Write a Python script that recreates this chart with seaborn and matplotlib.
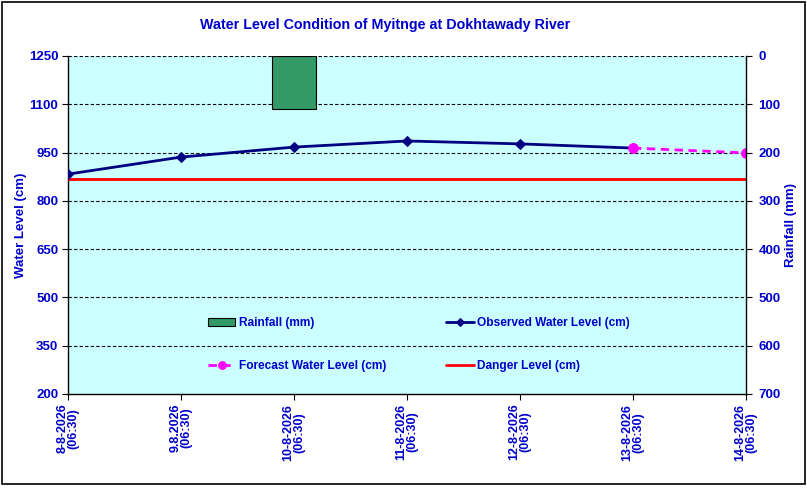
import matplotlib
matplotlib.use("Agg")
import matplotlib.pyplot as plt
import seaborn as sns
import pandas as pd
import numpy as np
from matplotlib.patches import Rectangle

# ---- data ----
dates = ["8-8-2026\n(06:30)", "9.8.2026\n(06:30)", "10-8-2026\n(06:30)", "11-8-2026\n(06:30)",
         "12-8-2026\n(06:30)", "13-8-2026\n(06:30)", "14-8-2026\n(06:30)"]
observed = [883, 936, 967, 986, 977, 964, np.nan]
forecast = [np.nan, np.nan, np.nan, np.nan, np.nan, 964, 949]
danger = [868, 868, 868, 868, 868, 868, 868]
rainfall = [0, 0, 110, 0, 0, 0, 0]
left_ticks = [200, 350, 500, 650, 800, 950, 1100, 1250]
right_ticks = [0, 100, 200, 300, 400, 500, 600, 700]

TXT = "#0000CC"
BG = "#CCFFFF"

sns.set_theme(style="white")
plt.rcParams["font.family"] = ["Liberation Sans", "DejaVu Sans"]
plt.rcParams["font.weight"] = "bold"

fig = plt.figure(figsize=(8.07, 4.88), dpi=100)
fig.patches.append(Rectangle((0.003, 0.008), 0.994, 0.988, transform=fig.transFigure,
                             fill=False, edgecolor="black", linewidth=1.2))
ax = fig.add_axes([68 / 807, 1 - 394 / 488, 678 / 807, 338 / 488])
ax.set_facecolor(BG)

idx = list(range(len(dates)))
df = pd.DataFrame({"x": idx, "observed": observed, "forecast": forecast,
                   "danger": danger, "rain": rainfall})

# gridlines
for t in left_ticks[1:]:
    ax.axhline(t, color="black", linewidth=0.8, linestyle=(0, (3, 2)), zorder=1)

sns.lineplot(data=df, x="x", y="danger", ax=ax, color="#FF0000", linewidth=2,
             label="Danger Level (cm)", zorder=3, legend=False)
sns.lineplot(data=df, x="x", y="observed", ax=ax, color="#000080", linewidth=2,
             marker="D", markersize=5.5, markeredgecolor="#000080",
             label="Observed Water Level (cm)", zorder=4, legend=False)
sns.lineplot(data=df, x="x", y="forecast", ax=ax, color="#FF00FF", linewidth=2,
             linestyle=(0, (3, 2)), marker="o", markersize=7, markeredgecolor="#FF00FF",
             label="Forecast Water Level (cm)", zorder=5, legend=False)

ax.set_xlim(0, 6)
ax.set_ylim(200, 1250)
ax.set_yticks(left_ticks)
ax.set_yticklabels([str(t) for t in left_ticks], color=TXT, fontsize=9.5, fontweight="bold")
ax.set_xticks(idx)
ax.set_xticklabels(dates, rotation=90, ha="center", va="top", color=TXT,
                   fontsize=9, fontweight="bold", linespacing=0.95)
ax.set_xlabel("")
ax.set_ylabel("Water Level (cm)", color=TXT, fontsize=9.5, fontweight="bold", labelpad=1)
ax.tick_params(axis="both", direction="out", length=4, width=0.8, color="black",
               left=True, bottom=True, pad=3)
for s in ["left", "bottom"]:
    ax.spines[s].set_color("black")
    ax.spines[s].set_linewidth(1.0)
for s in ["top", "right"]:
    ax.spines[s].set_visible(False)

# rainfall on inverted secondary axis
ax2 = ax.twinx()
rain_df = df[df["rain"] > 0]
sns.barplot(data=rain_df, x="x", y="rain", ax=ax2, native_scale=True, width=0.39,
            color="#339966", saturation=1, edgecolor="black", linewidth=0.8,
            label="Rainfall (mm)", legend=False)
ax2.set_xlim(0, 6)
ax2.set_ylim(700, 0)
ax2.set_yticks(right_ticks)
ax2.set_yticklabels([str(t) for t in right_ticks], color=TXT, fontsize=9.5, fontweight="bold")
ax2.set_ylabel("Rainfall (mm)", color=TXT, fontsize=9.5, fontweight="bold", labelpad=3)
ax2.tick_params(axis="y", direction="out", length=4, width=0.8, color="black", right=True, pad=5)
ax2.grid(False)
for s in ["top", "left", "bottom"]:
    ax2.spines[s].set_visible(False)
ax2.spines["right"].set_color("black")
ax2.spines["right"].set_linewidth(1.0)

# legend
h1, l1 = ax.get_legend_handles_labels()
h2, l2 = ax2.get_legend_handles_labels()
hd = dict(zip(l1 + l2, h1 + h2))
order = ["Rainfall (mm)", "Forecast Water Level (cm)", "Observed Water Level (cm)", "Danger Level (cm)"]
leg = ax2.legend([hd[k] for k in order], order, ncol=2, frameon=False,
                 loc="upper left", bbox_to_anchor=((202 - 68) / 678, (394 - 311) / 338),
                 borderpad=0, handlelength=2.3, handletextpad=0.3, columnspacing=5.0,
                 labelspacing=2.6, fontsize=8.6, markerscale=0.8)
for t in leg.get_texts():
    t.set_color(TXT)
    t.set_fontweight("bold")

fig.text(385 / 807, 1 - 25 / 488, "Water Level Condition of Myitnge at Dokhtawady River",
         ha="center", va="center", color=TXT, fontsize=10.3, fontweight="bold")

fig.savefig("out.png", dpi=100)
